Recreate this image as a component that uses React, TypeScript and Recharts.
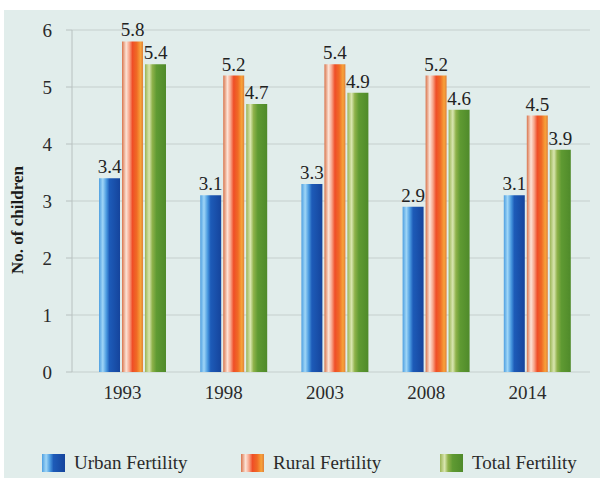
import { BarChart, Bar, XAxis, YAxis, CartesianGrid, LabelList, Rectangle } from "recharts";

const years = ["1993", "1998", "2003", "2008", "2014"];
const urban = [3.4, 3.1, 3.3, 2.9, 3.1];
const rural = [5.8, 5.2, 5.4, 5.2, 4.5];
const total = [5.4, 4.7, 4.9, 4.6, 3.9];
const yTicks = [0, 1, 2, 3, 4, 5, 6];
const boundaryTicks = [0, 1, 2, 3, 4, 5];

const seriesNames = ["Urban Fertility", "Rural Fertility", "Total Fertility"];

const data = years.map((year, i) => ({
  year,
  urban: urban[i],
  rural: rural[i],
  total: total[i],
}));

const font = "Liberation Serif";
const shift = 10; // bars sit a bit right of the year labels in the source

const gradients = {
  urban: "linear-gradient(90deg, #4f9fe0 0%, #9fd6f7 18%, #4a9ae0 35%, #1d5bb8 50%, #15449c 100%)",
  rural: "linear-gradient(90deg, #d9744c 0%, #fde3d6 20%, #f7a58a 35%, #ef4e27 50%, #f06a25 70%, #f7a23a 88%, #e0803a 100%)",
  total: "linear-gradient(90deg, #9ab455 0%, #d9e6b0 20%, #8fb24a 35%, #5f9a32 55%, #4f8a2a 100%)",
};

const labelStyle = { fill: "#222", fontSize: 19, fontFamily: font };

const ShiftedBar = (props: any) => <Rectangle {...props} x={props.x + shift} />;

export default function App() {
  return (
    <div
      style={{
        position: "absolute",
        left: 0,
        top: 0,
        width: 600,
        height: 481,
        background: "#ffffff",
        fontFamily: font,
      }}
    >
      <div
        style={{
          position: "absolute",
          left: 4,
          top: 10,
          width: 596,
          height: 468,
          background: "#e1edeb",
        }}
      />
      <div style={{ position: "absolute", left: 0, top: 0 }}>
        <BarChart
          width={600}
          height={481}
          data={data}
          margin={{ top: 30, right: 10, left: 0, bottom: 79 }}
          barSize={21}
          barGap={2}
          style={{ fontFamily: font }}
        >
          <defs>
            <linearGradient id="gUrban" x1="0" y1="0" x2="1" y2="0">
              <stop offset="0%" stopColor="#4f9fe0" />
              <stop offset="18%" stopColor="#9fd6f7" />
              <stop offset="35%" stopColor="#4a9ae0" />
              <stop offset="50%" stopColor="#1d5bb8" />
              <stop offset="100%" stopColor="#15449c" />
            </linearGradient>
            <linearGradient id="gRural" x1="0" y1="0" x2="1" y2="0">
              <stop offset="0%" stopColor="#d9744c" />
              <stop offset="20%" stopColor="#fde3d6" />
              <stop offset="35%" stopColor="#f7a58a" />
              <stop offset="50%" stopColor="#ef4e27" />
              <stop offset="70%" stopColor="#f06a25" />
              <stop offset="88%" stopColor="#f7a23a" />
              <stop offset="100%" stopColor="#e0803a" />
            </linearGradient>
            <linearGradient id="gTotal" x1="0" y1="0" x2="1" y2="0">
              <stop offset="0%" stopColor="#9ab455" />
              <stop offset="20%" stopColor="#d9e6b0" />
              <stop offset="35%" stopColor="#8fb24a" />
              <stop offset="55%" stopColor="#5f9a32" />
              <stop offset="100%" stopColor="#4f8a2a" />
            </linearGradient>
          </defs>
          <CartesianGrid vertical={false} stroke="#c5cfce" strokeWidth={1.2} />
          {/* category boundary ticks */}
          <XAxis
            xAxisId="bounds"
            type="number"
            domain={[0, 5]}
            ticks={boundaryTicks}
            tick={false}
            height={0}
            padding={{ left: 0, right: 12 }}
            axisLine={{ stroke: "#b8c1c0" }}
            tickLine={{ stroke: "#b8c1c0" }}
            tickSize={7}
          />
          <XAxis
            dataKey="year"
            tick={{ fill: "#2a2a2a", fontSize: 19, fontFamily: font, dy: 6 }}
            padding={{ left: 0, right: 12 }}
            axisLine={false}
            tickLine={false}
            interval={0}
          />
          <YAxis
            width={72}
            domain={[0, 6]}
            ticks={yTicks}
            tick={{ fill: "#2a2a2a", fontSize: 19, fontFamily: font, dx: -12 }}
            axisLine={{ stroke: "#b8c1c0" }}
            tickLine={{ stroke: "#b8c1c0" }}
            label={{
              value: "No. of children",
              angle: -90,
              position: "center",
              dx: -19,
              dy: 19,
              style: { fontFamily: font, fontSize: 17, fontWeight: "bold", fill: "#1a1a1a", textAnchor: "middle" },
            }}
          />
          <Bar dataKey="urban" name={seriesNames[0]} fill="url(#gUrban)" shape={ShiftedBar} isAnimationActive={false}>
            <LabelList dataKey="urban" position="top" offset={5} dx={shift} style={labelStyle} />
          </Bar>
          <Bar dataKey="rural" name={seriesNames[1]} fill="url(#gRural)" shape={ShiftedBar} isAnimationActive={false}>
            <LabelList dataKey="rural" position="top" offset={5} dx={shift} style={labelStyle} />
          </Bar>
          <Bar dataKey="total" name={seriesNames[2]} fill="url(#gTotal)" shape={ShiftedBar} isAnimationActive={false}>
            <LabelList dataKey="total" position="top" offset={5} dx={shift} style={labelStyle} />
          </Bar>
        </BarChart>
      </div>
      {[
        { key: "urban", left: 42 },
        { key: "rural", left: 241 },
        { key: "total", left: 440 },
      ].map((item, i) => (
        <div
          key={item.key}
          style={{
            position: "absolute",
            left: item.left,
            top: 452,
            display: "flex",
            alignItems: "center",
            fontSize: 19,
            color: "#2a2a2a",
            fontFamily: font,
          }}
        >
          <span
            style={{
              display: "inline-block",
              width: 23,
              height: 18,
              marginRight: 9,
              background: gradients[item.key as keyof typeof gradients],
            }}
          />
          {seriesNames[i]}
        </div>
      ))}
    </div>
  );
}
